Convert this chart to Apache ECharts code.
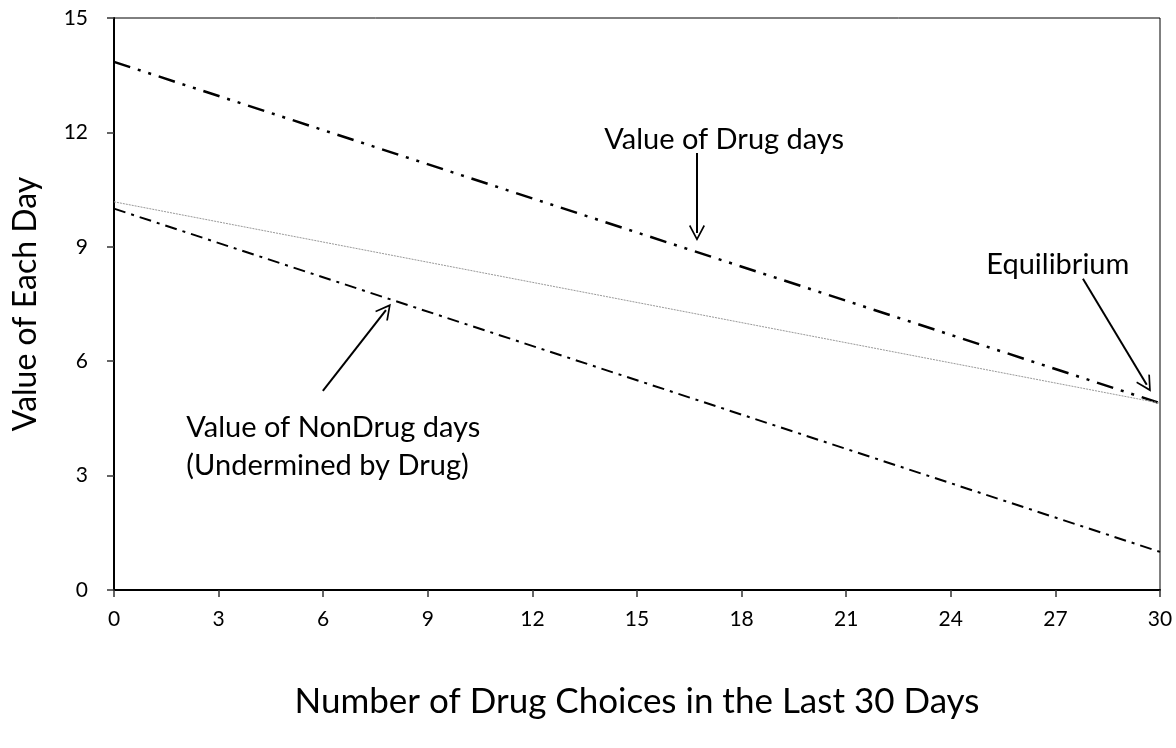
<!DOCTYPE html>
<html>
<head>
<meta charset="utf-8">
<script src="https://cdn.jsdelivr.net/npm/echarts@6/dist/echarts.min.js"></script>
<style>
  html, body { margin: 0; padding: 0; background: #fff; }
  #chart { width: 1176px; height: 748px; }
</style>
</head>
<body>
<div id="chart"></div>
<script>
// x positions (days) where each line is drawn
var days = [0, 30];
var drugValues = [13.85, 4.9];
var nonDrugValues = [10.0, 1.0];
var refValues = [10.18, 4.9];

var xTicks = [0, 3, 6, 9, 12, 15, 18, 21, 24, 27, 30];
var yTicks = [0, 3, 6, 9, 12, 15];

// annotation arrows: [from, to] in data units
var arrowDrug = [[16.72, 11.46], [16.72, 9.36]];
var arrowEquil = [[27.79, 8.16], [29.62, 5.38]];
var arrowNonDrug = [[5.99, 5.22], [7.80, 7.34]];

var FONT = 'Lato';
var chevron = 'path://M0,0 L9,15 L7.4,16 L0,3.6 L-7.4,16 L-9,15 Z';

function pairs(xs, ys) {
    var out = [];
    for (var i = 0; i < xs.length; i++) out.push([xs[i], ys[i]]);
    return out;
}

function arrowLine(a) {
    return [{ coord: a[0], symbol: 'none' }, { coord: a[1], symbol: chevron, symbolSize: [16, 16] }];
}

var dom = document.getElementById('chart');
var myChart = echarts.init(dom);
var option = {
    animation: false,
    backgroundColor: '#fff',
    grid: {
        left: 114, right: 16, top: 18, bottom: 158,
        show: true, borderColor: '#000', borderWidth: 1
    },
    xAxis: {
        type: 'value', min: 0, max: 30, interval: 3,
        name: 'Number of Drug Choices in the Last 30 Days',
        nameLocation: 'middle', nameGap: 94,
        nameTextStyle: { fontFamily: FONT, fontSize: 35, color: '#000' },
        axisLine: { lineStyle: { color: '#000', width: 2 } },
        axisTick: { length: 7, lineStyle: { color: '#333', width: 1.5 } },
        axisLabel: { fontFamily: FONT, fontSize: 21, color: '#000', margin: 19 },
        splitLine: { show: false }
    },
    yAxis: {
        type: 'value', min: 0, max: 15, interval: 3,
        name: 'Value of Each Day',
        nameLocation: 'middle', nameGap: 72,
        nameTextStyle: { fontFamily: FONT, fontSize: 32, color: '#000' },
        axisLine: { show: true, lineStyle: { color: '#000', width: 2 } },
        axisTick: { show: true, length: 7, lineStyle: { color: '#333', width: 1.5 } },
        axisLabel: { fontFamily: FONT, fontSize: 21, color: '#000', margin: 26 },
        splitLine: { show: false }
    },
    series: [
        {
            name: 'Value of Drug days', type: 'line', data: pairs(days, drugValues),
            symbol: 'none',
            lineStyle: { color: '#000', width: 2.5, type: [17, 8, 3, 8, 3, 8] },
            markLine: {
                silent: true, symbol: 'none',
                lineStyle: { color: '#000', width: 2, type: 'solid' },
                label: { show: false },
                data: [arrowLine(arrowDrug), arrowLine(arrowEquil), arrowLine(arrowNonDrug)]
            },
            markPoint: {
                silent: true, symbol: 'circle', symbolSize: 1,
                itemStyle: { color: 'rgba(0,0,0,0)' },
                label: { show: true, fontFamily: FONT, fontSize: 29, color: '#000', lineHeight: 38 },
                data: [
                    { coord: [17.5, 11.8], label: { formatter: 'Value of Drug days', position: 'inside' } },
                    { coord: [27.07, 8.52], label: { formatter: 'Equilibrium', position: 'inside' } },
                    { coord: [2.06, 3.77], label: { formatter: 'Value of NonDrug days\n(Undermined by Drug)', position: 'right', distance: 0, align: 'left' } }
                ]
            }
        },
        {
            name: 'Value of NonDrug days', type: 'line', data: pairs(days, nonDrugValues),
            symbol: 'none',
            lineStyle: { color: '#000', width: 2, type: [12, 6, 3, 6] }
        },
        {
            name: 'Reference', type: 'line', data: pairs(days, refValues),
            symbol: 'none',
            lineStyle: { color: '#999', width: 1, type: [2, 1] }
        }
    ]
};

if (option && typeof option === 'object') {
    myChart.setOption(option, true);
}
</script>
</body>
</html>
